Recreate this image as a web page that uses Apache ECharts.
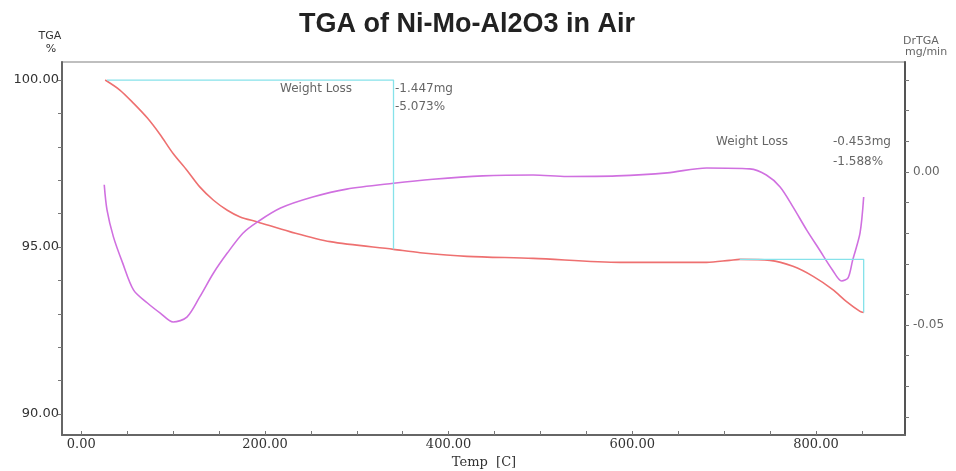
<!DOCTYPE html>
<html>
<head>
<meta charset="utf-8">
<title>TGA of Ni-Mo-Al2O3 in Air</title>
<script src="https://cdn.jsdelivr.net/npm/echarts@6/dist/echarts.min.js"></script>
<style>
  html, body { margin: 0; padding: 0; background: #fff; }
  #chart { width: 956px; height: 471px; }
</style>
</head>
<body>
<div id="chart"></div>
<script>
// TGA curve, weight % (left axis)
const tgaTemp = [26, 42, 57, 72, 86, 100, 115, 129, 144, 159, 173, 192, 227, 271, 340, 369, 420, 492, 587, 681, 706, 717, 750, 775, 797, 818, 833, 848, 852];
const tgaWeight = [100.0, 99.7, 99.3, 98.86, 98.36, 97.8, 97.3, 96.8, 96.4, 96.1, 95.9, 95.75, 95.46, 95.16, 94.93, 94.83, 94.72, 94.66, 94.54, 94.54, 94.6, 94.63, 94.6, 94.42, 94.12, 93.73, 93.37, 93.07, 93.04];

// DrTGA curve, mg/min (right axis)
const dtgTemp = [25, 28, 35, 45, 57, 72, 86, 100, 115, 129, 144, 159, 176, 192, 217, 252, 289, 340, 383, 437, 492, 529, 583, 638, 681, 728, 746, 761, 775, 790, 804, 818, 828, 835, 840, 848, 852];
const dtgRate = [-0.0042, -0.0124, -0.0212, -0.0297, -0.0386, -0.0428, -0.0461, -0.049, -0.0474, -0.0408, -0.033, -0.0265, -0.02, -0.0163, -0.0118, -0.0082, -0.0056, -0.0037, -0.0024, -0.0013, -0.001, -0.0015, -0.0013, -0.0003, 0.0013, 0.001, -0.001, -0.0049, -0.0114, -0.019, -0.0255, -0.032, -0.0356, -0.0346, -0.0288, -0.02, -0.0082];

// weight loss step markers
const step1Temp = [28, 340, 340];
const step1Weight = [100, 100, 94.93];
const step2Temp = [717, 852, 852];
const step2Weight = [94.63, 94.63, 93.04];

// ticks and labels
const xTicks = [0, 50, 100, 150, 200, 250, 300, 350, 400, 450, 500, 550, 600, 650, 700, 750, 800, 850];
const xLabels = [0, 200, 400, 600, 800];
const leftTicks = [90, 91, 92, 93, 94, 95, 96, 97, 98, 99, 100];
const leftLabels = [90, 95, 100];
const rightTicks = [-0.08, -0.07, -0.06, -0.05, -0.04, -0.03, -0.02, -0.01, 0, 0.01, 0.02, 0.03];
const rightLabels = [-0.05, 0];

const zip = (a, b) => a.map((v, i) => [v, b[i]]);

let myChart = echarts.init(document.getElementById('chart'));

const txt = (x, y, text, opts) => ({
  type: 'text',
  x: x,
  y: y,
  style: Object.assign({
    text: text,
    fontFamily: 'DejaVu Sans',
    fontSize: 12,
    fill: '#666',
    textAlign: 'left',
    textVerticalAlign: 'middle'
  }, opts || {})
});

myChart.setOption({
  animation: false,
  backgroundColor: '#fff',
  grid: {
    left: 62,
    right: 51,
    top: 62,
    bottom: 36,
    show: true,
    borderColor: '#aaa',
    borderWidth: 1.5
  },
  xAxis: {
    type: 'value',
    min: -21,
    max: 897,
    splitLine: { show: false },
    axisLine: { show: true, onZero: false, lineStyle: { color: '#666', width: 2 } },
    axisTick: { show: true, inside: true, length: 4, customValues: xTicks, lineStyle: { color: '#777' } },
    axisLabel: {
      customValues: xLabels,
      formatter: v => v.toFixed(2),
      fontFamily: 'DejaVu Serif',
      fontSize: 13,
      color: '#333',
      margin: 3
    }
  },
  yAxis: [
    {
      type: 'value',
      position: 'left',
      min: 89.37,
      max: 100.54,
      splitLine: { show: false },
      axisLine: { show: true, onZero: false, lineStyle: { color: '#666', width: 2 } },
      axisTick: { show: true, length: 4, customValues: leftTicks, lineStyle: { color: '#777' } },
      axisLabel: {
        customValues: leftLabels,
        formatter: v => v.toFixed(2),
        fontFamily: 'DejaVu Sans',
        fontSize: 13,
        color: '#333',
        margin: 3
      }
    },
    {
      type: 'value',
      position: 'right',
      min: -0.0859,
      max: 0.0359,
      splitLine: { show: false },
      axisLine: { show: true, onZero: false, lineStyle: { color: '#555', width: 2 } },
      axisTick: { show: true, length: 4, customValues: rightTicks, lineStyle: { color: '#777' } },
      axisLabel: {
        customValues: rightLabels,
        formatter: v => v.toFixed(2),
        fontFamily: 'DejaVu Sans',
        fontSize: 12,
        color: '#666',
        margin: 8
      }
    }
  ],
  series: [
    {
      name: 'TGA',
      type: 'line',
      yAxisIndex: 0,
      data: zip(tgaTemp, tgaWeight),
      showSymbol: false,
      smooth: 0.3,
      lineStyle: { color: '#ee7070', width: 1.6 }
    },
    {
      name: 'DrTGA',
      type: 'line',
      yAxisIndex: 1,
      data: zip(dtgTemp, dtgRate),
      showSymbol: false,
      smooth: 0.3,
      lineStyle: { color: '#d070e0', width: 1.6 }
    },
    {
      name: 'step1',
      type: 'line',
      yAxisIndex: 0,
      data: zip(step1Temp, step1Weight),
      showSymbol: false,
      lineStyle: { color: '#86e2ea', width: 1.3 }
    },
    {
      name: 'step2',
      type: 'line',
      yAxisIndex: 0,
      data: zip(step2Temp, step2Weight),
      showSymbol: false,
      lineStyle: { color: '#86e2ea', width: 1.3 }
    }
  ],
  graphic: [
    txt(467, 25, 'TGA of Ni-Mo-Al2O3 in Air', {
      fontFamily: 'Liberation Sans', fontSize: 27, fontWeight: 'bold', fill: '#222', textAlign: 'center'
    }),
    txt(50, 36, 'TGA', { fontSize: 11, fill: '#333', textAlign: 'center' }),
    txt(51, 49, '%', { fontSize: 11, fill: '#333', textAlign: 'center' }),
    txt(921, 41, 'DrTGA', { fontSize: 11, fill: '#666', textAlign: 'center' }),
    txt(905, 52, 'mg/min', { fontSize: 11, fill: '#666' }),
    txt(484, 463, 'Temp  [C]', { fontFamily: 'DejaVu Serif', fontSize: 13, fill: '#333', textAlign: 'center' }),
    txt(316, 89, 'Weight Loss', { textAlign: 'center' }),
    txt(395, 89, '-1.447mg'),
    txt(395, 107, '-5.073%'),
    txt(752, 142, 'Weight Loss', { textAlign: 'center' }),
    txt(833, 142, '-0.453mg'),
    txt(833, 162, '-1.588%')
  ]
});
</script>
</body>
</html>
